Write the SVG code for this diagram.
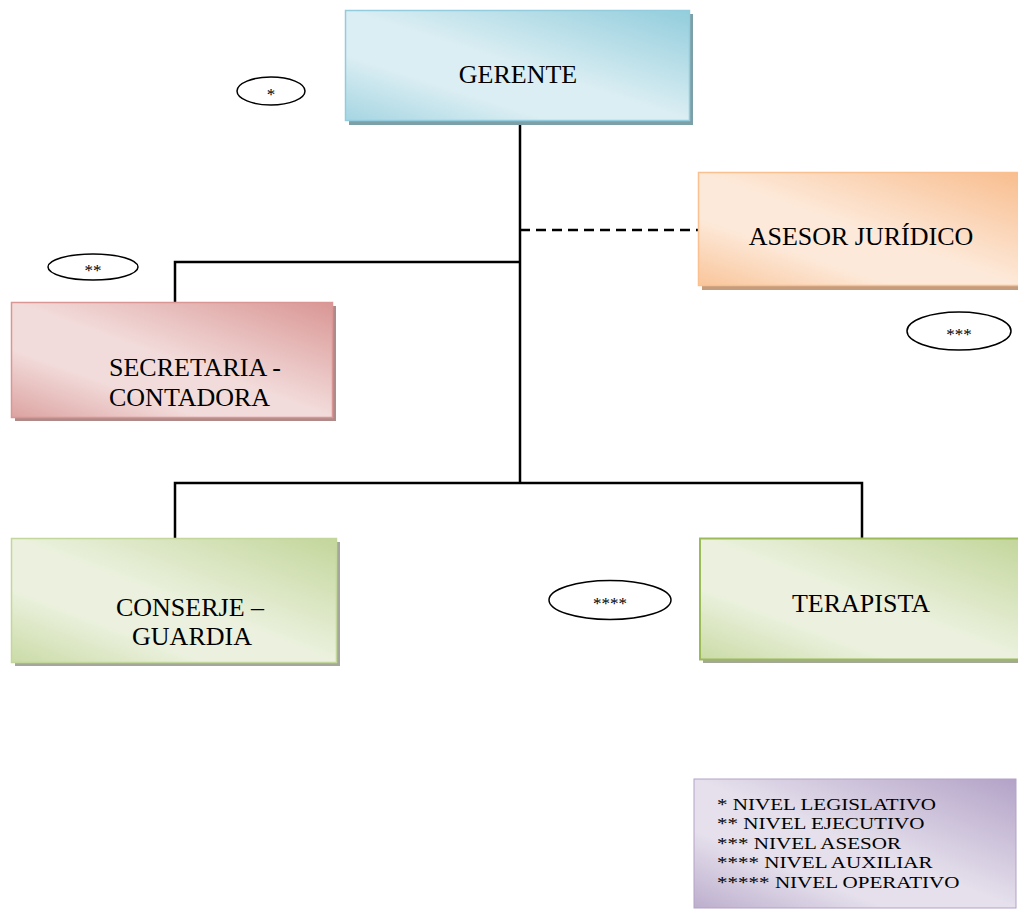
<svg xmlns="http://www.w3.org/2000/svg" width="1018" height="922" viewBox="0 0 1018 922">
<style>
text{font-family:"Liberation Serif","Times New Roman",serif;fill:#000}
.lbl{font-size:26px}
.leg{font-size:17px}
.star{font-size:17px;text-anchor:middle}
.conn{stroke:#000;stroke-width:2.5;fill:none}
.ell{fill:#fff;stroke:#000;stroke-width:1.5}
</style>
<defs>
<linearGradient id="gBlue" x1="1" y1="0" x2="0" y2="1">
<stop offset="0" stop-color="#92cddc"/><stop offset="0.5" stop-color="#dbeef3"/><stop offset="0.7" stop-color="#dbeef3"/><stop offset="1" stop-color="#a5d5e2"/>
</linearGradient>
<linearGradient id="gPink" x1="1" y1="0" x2="0" y2="1">
<stop offset="0" stop-color="#d99694"/><stop offset="0.5" stop-color="#f2dcdb"/><stop offset="0.7" stop-color="#f2dcdb"/><stop offset="1" stop-color="#dca3a1"/>
</linearGradient>
<linearGradient id="gOrange" x1="1" y1="0" x2="0" y2="1">
<stop offset="0" stop-color="#f8bd8e"/><stop offset="0.5" stop-color="#fde9d9"/><stop offset="0.7" stop-color="#fde9d9"/><stop offset="1" stop-color="#f9c59a"/>
</linearGradient>
<linearGradient id="gGreen" x1="1" y1="0" x2="0" y2="1">
<stop offset="0" stop-color="#c3d69b"/><stop offset="0.5" stop-color="#ebf1de"/><stop offset="0.7" stop-color="#ebf1de"/><stop offset="1" stop-color="#cadba6"/>
</linearGradient>
<linearGradient id="gPurple" x1="1" y1="0" x2="0" y2="1">
<stop offset="0" stop-color="#b3a2c7"/><stop offset="0.5" stop-color="#e5e0ec"/><stop offset="0.7" stop-color="#e5e0ec"/><stop offset="1" stop-color="#bcaecd"/>
</linearGradient>
</defs>
<rect width="1018" height="922" fill="#fff"/>

<g id="connectors">
<line class="conn" x1="520" y1="121" x2="520" y2="484"/>
<line class="conn" x1="520" y1="230" x2="698" y2="230" stroke-dasharray="10,6"/>
<polyline class="conn" points="520,262 175,262 175,302"/>
<polyline class="conn" points="175,538 175,483 862,483 862,538"/>
</g>

<g id="gerente">
<rect x="349" y="14" width="344" height="111" fill="#7d9fa8"/>
<rect x="345.5" y="10.5" width="344" height="110" fill="url(#gBlue)" stroke="#93cddd" stroke-width="1.5"/>
<text class="lbl" x="518" y="83" text-anchor="middle">GERENTE</text>
</g>

<g id="asesor">
<rect x="702" y="176" width="320" height="114" fill="#c49d7e"/>
<rect x="698.5" y="172.5" width="322" height="113" fill="url(#gOrange)" stroke="#fac090" stroke-width="1.5"/>
<text class="lbl" x="861" y="245" text-anchor="middle">ASESOR JURÍDICO</text>
</g>

<g id="secretaria">
<rect x="15" y="306" width="321" height="115" fill="#b08a89"/>
<rect x="11.5" y="302.5" width="321" height="115" fill="url(#gPink)" stroke="#d99694" stroke-width="1.5"/>
<text class="lbl" x="109" y="376">SECRETARIA -</text>
<text class="lbl" x="109" y="406">CONTADORA</text>
</g>

<g id="conserje">
<rect x="15" y="542" width="325" height="124" fill="#a4a89a"/>
<rect x="11.5" y="538.5" width="325" height="124" fill="url(#gGreen)" stroke="#c3d69b" stroke-width="1.5"/>
<text class="lbl" x="190" y="616" text-anchor="middle">CONSERJE –</text>
<text class="lbl" x="192" y="645" text-anchor="middle">GUARDIA</text>
</g>

<g id="terapista">
<rect x="703" y="542" width="320" height="121" fill="#a4a89a"/>
<rect x="700" y="538.5" width="322" height="121" fill="url(#gGreen)" stroke="#9bbb59" stroke-width="2"/>
<text class="lbl" x="861" y="612" text-anchor="middle">TERAPISTA</text>
</g>

<g id="ellipse1">
<ellipse class="ell" cx="271" cy="91" rx="34" ry="14"/>
<text class="star" x="271" y="100">*</text>
</g>
<g id="ellipse2">
<ellipse class="ell" cx="93" cy="267" rx="45" ry="13"/>
<text class="star" x="93" y="276">**</text>
</g>
<g id="ellipse3">
<ellipse class="ell" cx="959" cy="331" rx="52" ry="19"/>
<text class="star" x="959" y="340">***</text>
</g>
<g id="ellipse4">
<ellipse class="ell" cx="610" cy="600" rx="61" ry="19.5"/>
<text class="star" x="610" y="609">****</text>
</g>

<g id="legend">
<rect x="694" y="779" width="322" height="129" fill="url(#gPurple)" stroke="#b3a2c7" stroke-width="1"/>
<g transform="translate(717,0) scale(1.24,1)">
<text class="leg" x="0" y="810">* NIVEL LEGISLATIVO</text>
<text class="leg" x="0" y="829.5">** NIVEL EJECUTIVO</text>
<text class="leg" x="0" y="849">*** NIVEL ASESOR</text>
<text class="leg" x="0" y="868.5">**** NIVEL AUXILIAR</text>
<text class="leg" x="0" y="888">***** NIVEL OPERATIVO</text>
</g>
</g>
</svg>
